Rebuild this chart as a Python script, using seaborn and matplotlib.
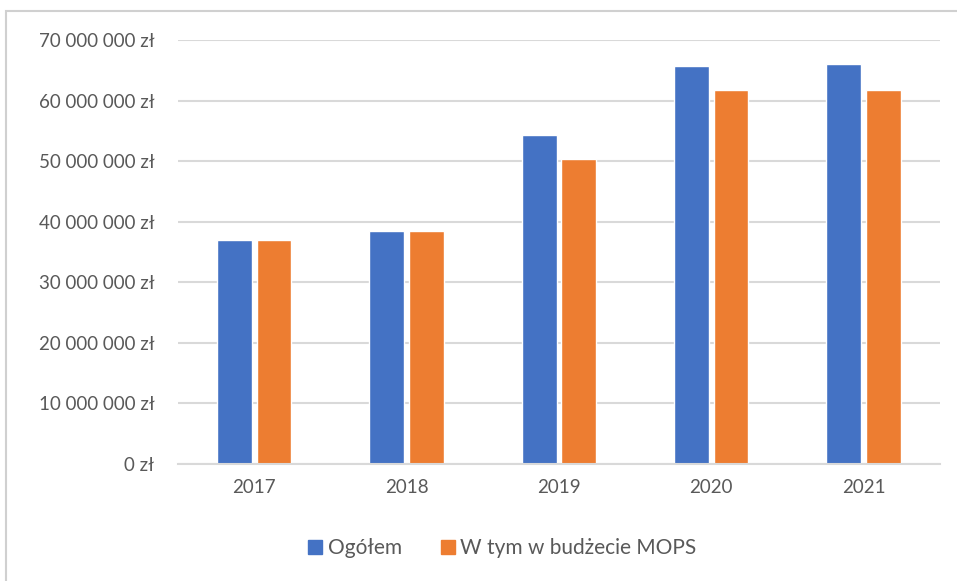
import seaborn as sns
import matplotlib.pyplot as plt
import matplotlib.ticker as ticker
import pandas as pd
from matplotlib.patches import Rectangle
from matplotlib.lines import Line2D

years = ["2017", "2018", "2019", "2020", "2021"]
ogolem = [36_900_000, 38_400_000, 54_250_000, 65_700_000, 66_100_000]
mops = [36_900_000, 38_400_000, 50_300_000, 61_700_000, 61_700_000]
series_names = ["Ogółem", "W tym w budżecie MOPS"]
colors = ["#4472C4", "#ED7D31"]
text_color = "#595959"
grid_color = "#D9D9D9"

df = pd.DataFrame({
    "rok": years * 2,
    "wartosc": ogolem + mops,
    "seria": [series_names[0]] * len(years) + [series_names[1]] * len(years),
})

sns.set_style("white")
plt.rcParams["font.family"] = ["Lato", "DejaVu Sans"]

fig = plt.figure(figsize=(9.57, 5.81), dpi=100)
ax = fig.add_axes([0.186, 0.2014, 0.796, 0.7298])

sns.barplot(data=df, x="rok", y="wartosc", hue="seria", palette=colors,
            width=0.52, gap=0.12, ax=ax, legend=False, saturation=1)


def format_zl(value, pos):
    return f"{int(value):,}".replace(",", " ") + " zł"


ax.set_ylim(0, 70_000_000)
ax.yaxis.set_major_locator(ticker.MultipleLocator(10_000_000))
ax.yaxis.set_major_formatter(ticker.FuncFormatter(format_zl))
ax.grid(axis="y", color=grid_color, linewidth=1.5)
ax.set_axisbelow(True)
for side in ["top", "right", "left"]:
    ax.spines[side].set_visible(False)
ax.spines["bottom"].set_color(grid_color)
ax.spines["bottom"].set_linewidth(1.5)
ax.tick_params(axis="both", length=0, labelsize=13.5, labelcolor=text_color)
ax.tick_params(axis="y", pad=17)
ax.tick_params(axis="x", pad=11)
ax.set_xlabel("")
ax.set_ylabel("")

handles = [Line2D([0], [0], marker="s", linestyle="", markersize=10,
                  markerfacecolor=c, markeredgecolor=c) for c in colors]
fig.legend(handles, series_names, loc="center", bbox_to_anchor=(0.523, 0.057),
           ncol=2, frameon=False, fontsize=15, labelcolor=text_color,
           handletextpad=0.1, columnspacing=1.7, handlelength=1.0)

# outer chart frame
fig.patches.append(Rectangle((0.006, -0.05), 1.1, 1.031, transform=fig.transFigure,
                             fill=False, edgecolor="#D0D0D0", linewidth=1.5))

plt.savefig("out.png", dpi=100)
